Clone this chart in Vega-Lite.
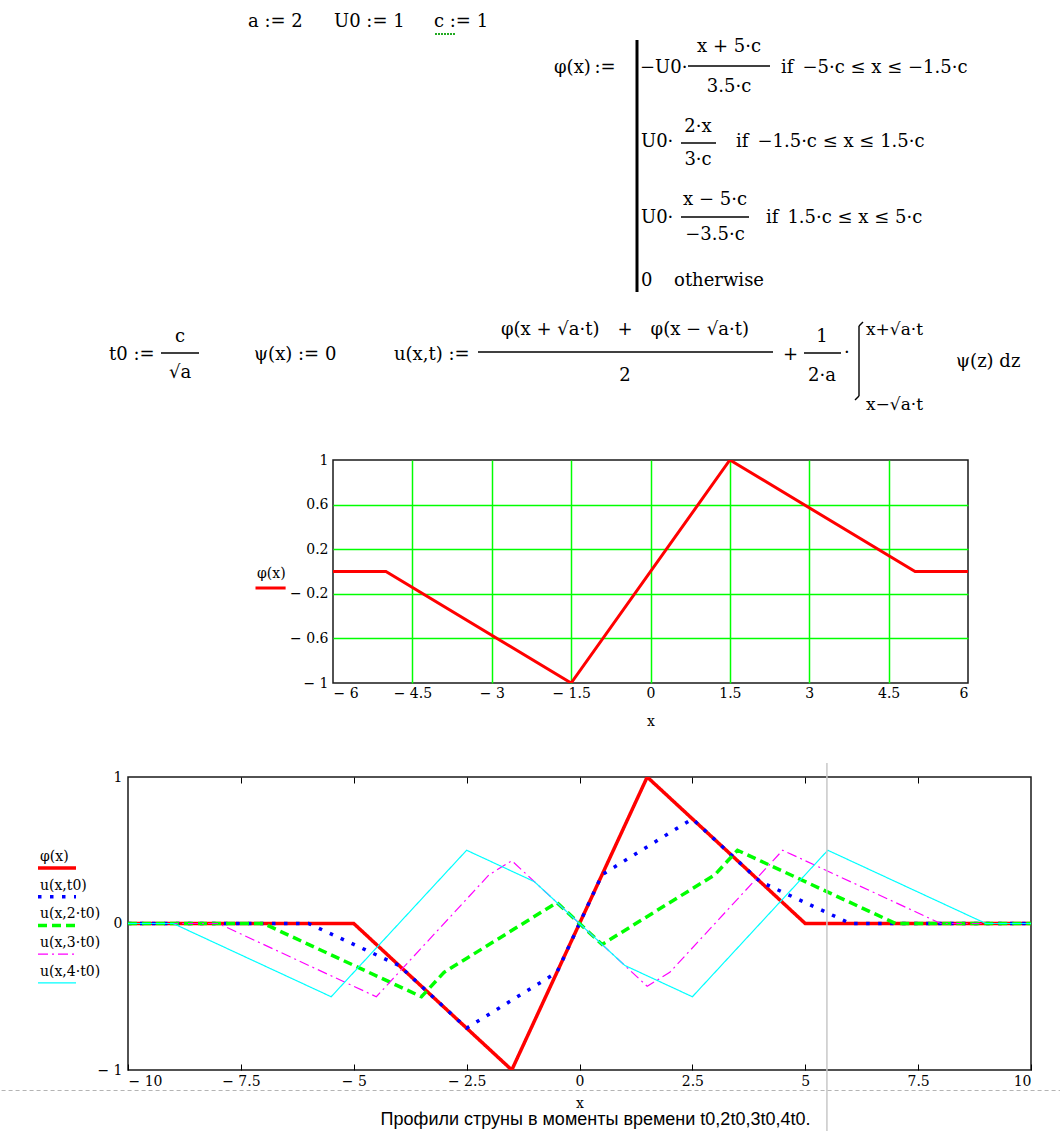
{
  "$schema": "https://vega.github.io/schema/vega-lite/v6.json",
  "background": "white",
  "padding": 0,
  "spacing": 32,
  "resolve": {
    "scale": {"color": "independent", "strokeDash": "independent", "strokeWidth": "independent"},
    "legend": {"color": "independent", "strokeDash": "independent", "strokeWidth": "independent"}
  },
  "config": {
    "view": {"stroke": null},
    "font": "DejaVu Serif",
    "axis": {"labelFont": "DejaVu Serif", "labelFontSize": 14, "labelColor": "#000", "titleFont": "DejaVu Serif", "titleFontSize": 14, "titleFontWeight": "normal", "titleColor": "#000", "labelOverlap": false},
    "legend": {"labelFont": "DejaVu Serif", "labelFontSize": 14, "labelColor": "#000"}
  },
  "datasets": {
    "ftext": [
      {"k": "L", "t": "a := 2", "x": 247, "y": 22},
      {"k": "L", "t": "U0 := 1", "x": 333, "y": 22},
      {"k": "L", "t": "c := 1", "x": 433, "y": 22},
      {"k": "L", "t": "φ(x)\u2009:=", "x": 553, "y": 68},
      {"k": "L", "t": "−U0·", "x": 639, "y": 68},
      {"k": "C", "t": "x + 5·c", "x": 728, "y": 47},
      {"k": "C", "t": "3.5·c", "x": 728, "y": 87},
      {"k": "L", "t": "if\u2002−5·c ≤ x ≤ −1.5·c", "x": 780, "y": 68},
      {"k": "L", "t": "U0·", "x": 640, "y": 142},
      {"k": "C", "t": "2·x", "x": 697, "y": 127},
      {"k": "C", "t": "3·c", "x": 697, "y": 160},
      {"k": "L", "t": "if\u2002−1.5·c ≤ x ≤ 1.5·c", "x": 735, "y": 142},
      {"k": "L", "t": "U0·", "x": 640, "y": 218},
      {"k": "C", "t": "x − 5·c", "x": 714, "y": 200},
      {"k": "C", "t": "−3.5·c", "x": 714, "y": 235},
      {"k": "L", "t": "if\u20021.5·c ≤ x ≤ 5·c", "x": 765, "y": 218},
      {"k": "L", "t": "0\u2003\u2009otherwise", "x": 640, "y": 281},
      {"k": "L", "t": "t0 :=", "x": 108, "y": 355},
      {"k": "C", "t": "c", "x": 179, "y": 337},
      {"k": "C", "t": "√a", "x": 179, "y": 373},
      {"k": "L", "t": "ψ(x) := 0", "x": 253, "y": 355},
      {"k": "L", "t": "u(x,t) :=", "x": 393, "y": 355},
      {"k": "C", "t": "φ(x + √a·t)\u2003+\u2003φ(x − √a·t)", "x": 624, "y": 330},
      {"k": "C", "t": "2", "x": 624, "y": 376},
      {"k": "L", "t": "+", "x": 782, "y": 355},
      {"k": "C", "t": "1", "x": 821, "y": 337},
      {"k": "C", "t": "2·a", "x": 821, "y": 376},
      {"k": "L", "t": "·", "x": 843, "y": 353},
      {"k": "L", "t": "ψ(z) dz", "x": 955, "y": 362},
      {"k": "S", "t": "x+√a·t", "x": 865, "y": 330},
      {"k": "S", "t": "x−√a·t", "x": 865, "y": 405}
    ],
    "frules": [
      {"x": 687, "x2": 769, "y": 66, "y2": 66},
      {"x": 680, "x2": 715, "y": 143, "y2": 143},
      {"x": 680, "x2": 748, "y": 217, "y2": 217},
      {"x": 160, "x2": 198, "y": 353, "y2": 353},
      {"x": 477, "x2": 772, "y": 352, "y2": 352},
      {"x": 803, "x2": 840, "y": 353, "y2": 353},
      {"x": 858, "x2": 858, "y": 326, "y2": 396},
      {"x": 858, "x2": 862, "y": 326, "y2": 322},
      {"x": 858, "x2": 854, "y": 396, "y2": 400}
    ],
    "phi1": [
      {"s": "φ(x)", "x": -6, "y": 0},
      {"s": "φ(x)", "x": -5, "y": 0},
      {"s": "φ(x)", "x": -1.5, "y": -1},
      {"s": "φ(x)", "x": 1.5, "y": 1},
      {"s": "φ(x)", "x": 5, "y": 0},
      {"s": "φ(x)", "x": 6, "y": 0}
    ],
    "prof": [
      {"s": "φ(x)", "x": -10, "y": 0},
      {"s": "φ(x)", "x": -5, "y": 0},
      {"s": "φ(x)", "x": -1.5, "y": -1},
      {"s": "φ(x)", "x": 1.5, "y": 1},
      {"s": "φ(x)", "x": 5, "y": 0},
      {"s": "φ(x)", "x": 10, "y": 0},
      {"s": "u(x,t0)", "x": -10, "y": 0},
      {"s": "u(x,t0)", "x": -6, "y": 0},
      {"s": "u(x,t0)", "x": -4, "y": -0.2857},
      {"s": "u(x,t0)", "x": -2.5, "y": -0.7143},
      {"s": "u(x,t0)", "x": -0.5, "y": -0.3333},
      {"s": "u(x,t0)", "x": 0.5, "y": 0.3333},
      {"s": "u(x,t0)", "x": 2.5, "y": 0.7143},
      {"s": "u(x,t0)", "x": 4, "y": 0.2857},
      {"s": "u(x,t0)", "x": 6, "y": 0},
      {"s": "u(x,t0)", "x": 10, "y": 0},
      {"s": "u(x,2·t0)", "x": -10, "y": 0},
      {"s": "u(x,2·t0)", "x": -7, "y": 0},
      {"s": "u(x,2·t0)", "x": -3.5, "y": -0.5},
      {"s": "u(x,2·t0)", "x": -3, "y": -0.3333},
      {"s": "u(x,2·t0)", "x": -0.5, "y": 0.1429},
      {"s": "u(x,2·t0)", "x": 0.5, "y": -0.1429},
      {"s": "u(x,2·t0)", "x": 3, "y": 0.3333},
      {"s": "u(x,2·t0)", "x": 3.5, "y": 0.5},
      {"s": "u(x,2·t0)", "x": 7, "y": 0},
      {"s": "u(x,2·t0)", "x": 10, "y": 0},
      {"s": "u(x,3·t0)", "x": -10, "y": 0},
      {"s": "u(x,3·t0)", "x": -8, "y": 0},
      {"s": "u(x,3·t0)", "x": -4.5, "y": -0.5},
      {"s": "u(x,3·t0)", "x": -2, "y": 0.3333},
      {"s": "u(x,3·t0)", "x": -1.5, "y": 0.4286},
      {"s": "u(x,3·t0)", "x": 1.5, "y": -0.4286},
      {"s": "u(x,3·t0)", "x": 2, "y": -0.3333},
      {"s": "u(x,3·t0)", "x": 4.5, "y": 0.5},
      {"s": "u(x,3·t0)", "x": 8, "y": 0},
      {"s": "u(x,3·t0)", "x": 10, "y": 0},
      {"s": "u(x,4·t0)", "x": -10, "y": 0},
      {"s": "u(x,4·t0)", "x": -9, "y": 0},
      {"s": "u(x,4·t0)", "x": -5.5, "y": -0.5},
      {"s": "u(x,4·t0)", "x": -2.5, "y": 0.5},
      {"s": "u(x,4·t0)", "x": -1, "y": 0.2857},
      {"s": "u(x,4·t0)", "x": 1, "y": -0.2857},
      {"s": "u(x,4·t0)", "x": 2.5, "y": -0.5},
      {"s": "u(x,4·t0)", "x": 5.5, "y": 0.5},
      {"s": "u(x,4·t0)", "x": 9, "y": 0},
      {"s": "u(x,4·t0)", "x": 10, "y": 0}
    ]
  },
  "vconcat": [
    {
      "width": 1060,
      "height": 420,
      "layer": [
        {
          "data": {"name": "ftext"},
          "transform": [{"filter": "datum.k == 'L'"}],
          "mark": {"type": "text", "align": "left", "baseline": "middle", "fontSize": 18, "font": "DejaVu Serif", "color": "#000"},
          "encoding": {
            "x": {"field": "x", "type": "quantitative", "scale": {"domain": [0, 1060], "nice": false, "zero": false}, "axis": null},
            "y": {"field": "y", "type": "quantitative", "scale": {"domain": [0, 420], "nice": false, "zero": false, "reverse": true}, "axis": null},
            "text": {"field": "t"}
          }
        },
        {
          "data": {"name": "ftext"},
          "transform": [{"filter": "datum.k == 'C'"}],
          "mark": {"type": "text", "align": "center", "baseline": "middle", "fontSize": 18, "font": "DejaVu Serif", "color": "#000"},
          "encoding": {
            "x": {"field": "x", "type": "quantitative", "scale": {"domain": [0, 1060], "nice": false, "zero": false}, "axis": null},
            "y": {"field": "y", "type": "quantitative", "scale": {"domain": [0, 420], "nice": false, "zero": false, "reverse": true}, "axis": null},
            "text": {"field": "t"}
          }
        },
        {
          "data": {"name": "ftext"},
          "transform": [{"filter": "datum.k == 'S'"}],
          "mark": {"type": "text", "align": "left", "baseline": "middle", "fontSize": 17, "font": "DejaVu Serif", "color": "#000"},
          "encoding": {
            "x": {"field": "x", "type": "quantitative", "scale": {"domain": [0, 1060], "nice": false, "zero": false}, "axis": null},
            "y": {"field": "y", "type": "quantitative", "scale": {"domain": [0, 420], "nice": false, "zero": false, "reverse": true}, "axis": null},
            "text": {"field": "t"}
          }
        },
        {
          "data": {"name": "frules"},
          "mark": {"type": "rule", "strokeWidth": 1.4, "color": "#000"},
          "encoding": {
            "x": {"field": "x", "type": "quantitative", "scale": {"domain": [0, 1060], "nice": false, "zero": false}, "axis": null},
            "x2": {"field": "x2"},
            "y": {"field": "y", "type": "quantitative", "scale": {"domain": [0, 420], "nice": false, "zero": false, "reverse": true}, "axis": null},
            "y2": {"field": "y2"}
          }
        },
        {
          "data": {"values": [{"x": 636, "y": 40, "y2": 292}]},
          "mark": {"type": "rule", "strokeWidth": 3, "color": "#000"},
          "encoding": {
            "x": {"field": "x", "type": "quantitative", "scale": {"domain": [0, 1060], "nice": false, "zero": false}, "axis": null},
            "y": {"field": "y", "type": "quantitative", "scale": {"domain": [0, 420], "nice": false, "zero": false, "reverse": true}, "axis": null},
            "y2": {"field": "y2"}
          }
        },
        {
          "data": {"values": [{"x": 434, "x2": 455, "y": 34}]},
          "mark": {"type": "rule", "strokeWidth": 2, "color": "#22aa22", "strokeDash": [2, 1]},
          "encoding": {
            "x": {"field": "x", "type": "quantitative", "scale": {"domain": [0, 1060], "nice": false, "zero": false}, "axis": null},
            "x2": {"field": "x2"},
            "y": {"field": "y", "type": "quantitative", "scale": {"domain": [0, 420], "nice": false, "zero": false, "reverse": true}, "axis": null}
          }
        }
      ]
    },
    {
      "hconcat": [
        {"width": 332, "height": 223, "data": {"values": [{}]}, "mark": {"type": "point", "opacity": 0}},
        {
          "width": 635,
          "height": 223,
          "view": {"stroke": "#1a1a1a", "strokeWidth": 1.5},
          "data": {"name": "phi1"},
          "mark": {"type": "line", "strokeWidth": 3, "clip": true},
          "encoding": {
            "x": {
              "field": "x", "type": "quantitative",
              "scale": {"domain": [-6, 6], "nice": false, "zero": false},
              "axis": {
                "values": [-6, -4.5, -3, -1.5, 0, 1.5, 3, 4.5, 6],
                "labelExpr": "datum.value < 0 ? '− ' + format(-datum.value, '~g') : format(datum.value, '~g')",
                "grid": true, "gridColor": {"condition": {"test": "abs(datum.value) >= 6", "value": "transparent"}, "value": "#00ff00"},
                "gridWidth": 1.5, "gridOpacity": 1, "domain": false, "ticks": false,
                "labelPadding": 3, "title": "x", "titlePadding": 14
              }
            },
            "y": {
              "field": "y", "type": "quantitative",
              "scale": {"domain": [-1, 1], "nice": false, "zero": false},
              "axis": {
                "values": [-1, -0.6, -0.2, 0.2, 0.6, 1],
                "labelExpr": "datum.value < 0 ? '− ' + format(-datum.value, '~g') : format(datum.value, '~g')",
                "grid": true, "gridColor": {"condition": {"test": "abs(datum.value) >= 1", "value": "transparent"}, "value": "#00ff00"},
                "gridWidth": 1.5, "gridOpacity": 1, "domain": false, "ticks": false,
                "labelPadding": 5, "title": null
              }
            },
            "color": {
              "field": "s", "type": "nominal",
              "scale": {"domain": ["φ(x)"], "range": ["#ff0000"]},
              "legend": {"orient": "none", "legendX": -79, "legendY": 112, "title": null, "symbolType": "M-1,0.35H1", "symbolSize": 1600, "symbolStrokeWidth": 3, "clipHeight": 18, "labelOffset": -40, "labelBaseline": "bottom", "padding": 0}
            }
          }
        }
      ],
      "spacing": 0,
      "bounds": "flush",
      "resolve": {
        "scale": {"color": "independent", "strokeDash": "independent", "strokeWidth": "independent"},
        "legend": {"color": "independent", "strokeDash": "independent", "strokeWidth": "independent"}
      }
    },
    {
      "hconcat": [
        {"width": 127, "height": 293, "data": {"values": [{}]}, "mark": {"type": "point", "opacity": 0}},
        {
          "width": 903,
          "height": 293,
          "view": {"stroke": "#1a1a1a", "strokeWidth": 1.5},
          "layer": [
            {
              "data": {"name": "prof"},
              "mark": {"type": "line", "clip": true},
              "encoding": {
                "x": {
                  "field": "x", "type": "quantitative",
                  "scale": {"domain": [-10, 10], "nice": false, "zero": false},
                  "axis": {
                    "values": [-10, -7.5, -5, -2.5, 0, 2.5, 5, 7.5, 10],
                    "labelExpr": "datum.value < 0 ? '− ' + format(-datum.value, '~g') : format(datum.value, '~g')",
                    "grid": false, "domain": false, "ticks": true, "tickSize": 6, "offset": -6, "tickColor": "#000", "tickWidth": 1,
                    "labelPadding": 4, "title": "x", "titlePadding": 8
                  }
                },
                "y": {
                  "field": "y", "type": "quantitative", "title": null,
                  "scale": {"domain": [-1, 1], "nice": false, "zero": false},
                  "axis": {
                    "values": [-1, 0, 1],
                    "labelExpr": "datum.value < 0 ? '− ' + format(-datum.value, '~g') : format(datum.value, '~g')",
                    "grid": false, "domain": false, "ticks": false, "labelPadding": 6
                  }
                },
                "color": {
                  "field": "s", "type": "nominal",
                  "scale": {"domain": ["φ(x)", "u(x,t0)", "u(x,2·t0)", "u(x,3·t0)", "u(x,4·t0)"], "range": ["#ff0000", "#0000ff", "#00ff00", "#ff00ff", "#00ffff"]},
                  "legend": {"orient": "none", "legendX": -92, "legendY": 78, "title": null, "symbolType": "M-1,0.21H1", "symbolSize": 1444, "clipHeight": 18, "labelOffset": -38, "labelBaseline": "bottom", "rowPadding": 5.7, "padding": 0}
                },
                "strokeDash": {
                  "field": "s", "type": "nominal",
                  "scale": {"domain": ["φ(x)", "u(x,t0)", "u(x,2·t0)", "u(x,3·t0)", "u(x,4·t0)"], "range": [[1, 0], [3.5, 8.5], [9, 5], [10, 4, 2, 4], [1, 0]]},
                  "legend": {"orient": "none", "legendX": -92, "legendY": 78, "title": null, "symbolType": "M-1,0.21H1", "symbolSize": 1444, "clipHeight": 18, "labelOffset": -38, "labelBaseline": "bottom", "rowPadding": 5.7, "padding": 0}
                },
                "strokeWidth": {
                  "field": "s", "type": "nominal",
                  "scale": {"type": "ordinal", "domain": ["φ(x)", "u(x,t0)", "u(x,2·t0)", "u(x,3·t0)", "u(x,4·t0)"], "range": [3.5, 3.5, 3.5, 1.2, 1.2]},
                  "legend": {"orient": "none", "legendX": -92, "legendY": 78, "title": null, "symbolType": "M-1,0.21H1", "symbolSize": 1444, "clipHeight": 18, "labelOffset": -38, "labelBaseline": "bottom", "rowPadding": 5.7, "padding": 0}
                }
              }
            },
            {
              "data": {"values": [{"x": 5.48, "y": 1.096, "y2": -1.433}]},
              "mark": {"type": "rule", "color": "#c8c8c8", "strokeWidth": 1.5},
              "encoding": {
                "x": {
                  "field": "x", "type": "quantitative",
                  "scale": {"domain": [-10, 10], "nice": false, "zero": false},
                  "axis": {"orient": "top", "values": [-7.5, -5, -2.5, 0, 2.5, 5, 7.5], "labels": false, "domain": false, "grid": false, "ticks": true, "tickSize": 6, "offset": -6, "tickColor": "#000", "title": null}
                },
                "y": {"field": "y", "type": "quantitative", "title": null, "scale": {"domain": [-1, 1], "nice": false, "zero": false}},
                "y2": {"field": "y2"}
              }
            },
            {
              "data": {"values": [{"x": -12.8, "x2": 10.66, "y": -1.14}]},
              "mark": {"type": "rule", "color": "#b4b4b4", "strokeWidth": 1, "strokeDash": [4, 3]},
              "encoding": {
                "x": {"field": "x", "type": "quantitative", "scale": {"domain": [-10, 10], "nice": false, "zero": false}, "axis": null},
                "x2": {"field": "x2"},
                "y": {"field": "y", "type": "quantitative", "title": null, "scale": {"domain": [-1, 1], "nice": false, "zero": false}}
              }
            },
            {
              "data": {"values": [{"t": "Профили струны в моменты времени t0,2t0,3t0,4t0.", "x": 0.355, "y": -1.341}]},
              "mark": {"type": "text", "align": "center", "baseline": "middle", "font": "Liberation Sans", "fontSize": 18, "color": "#000"},
              "encoding": {
                "x": {"field": "x", "type": "quantitative", "scale": {"domain": [-10, 10], "nice": false, "zero": false}, "axis": null},
                "y": {"field": "y", "type": "quantitative", "title": null, "scale": {"domain": [-1, 1], "nice": false, "zero": false}},
                "text": {"field": "t"}
              }
            }
          ],
          "resolve": {"axis": {"x": "independent"}}
        }
      ],
      "spacing": 0,
      "bounds": "flush",
      "resolve": {
        "scale": {"color": "independent", "strokeDash": "independent", "strokeWidth": "independent"},
        "legend": {"color": "independent", "strokeDash": "independent", "strokeWidth": "independent"}
      }
    }
  ]
}
